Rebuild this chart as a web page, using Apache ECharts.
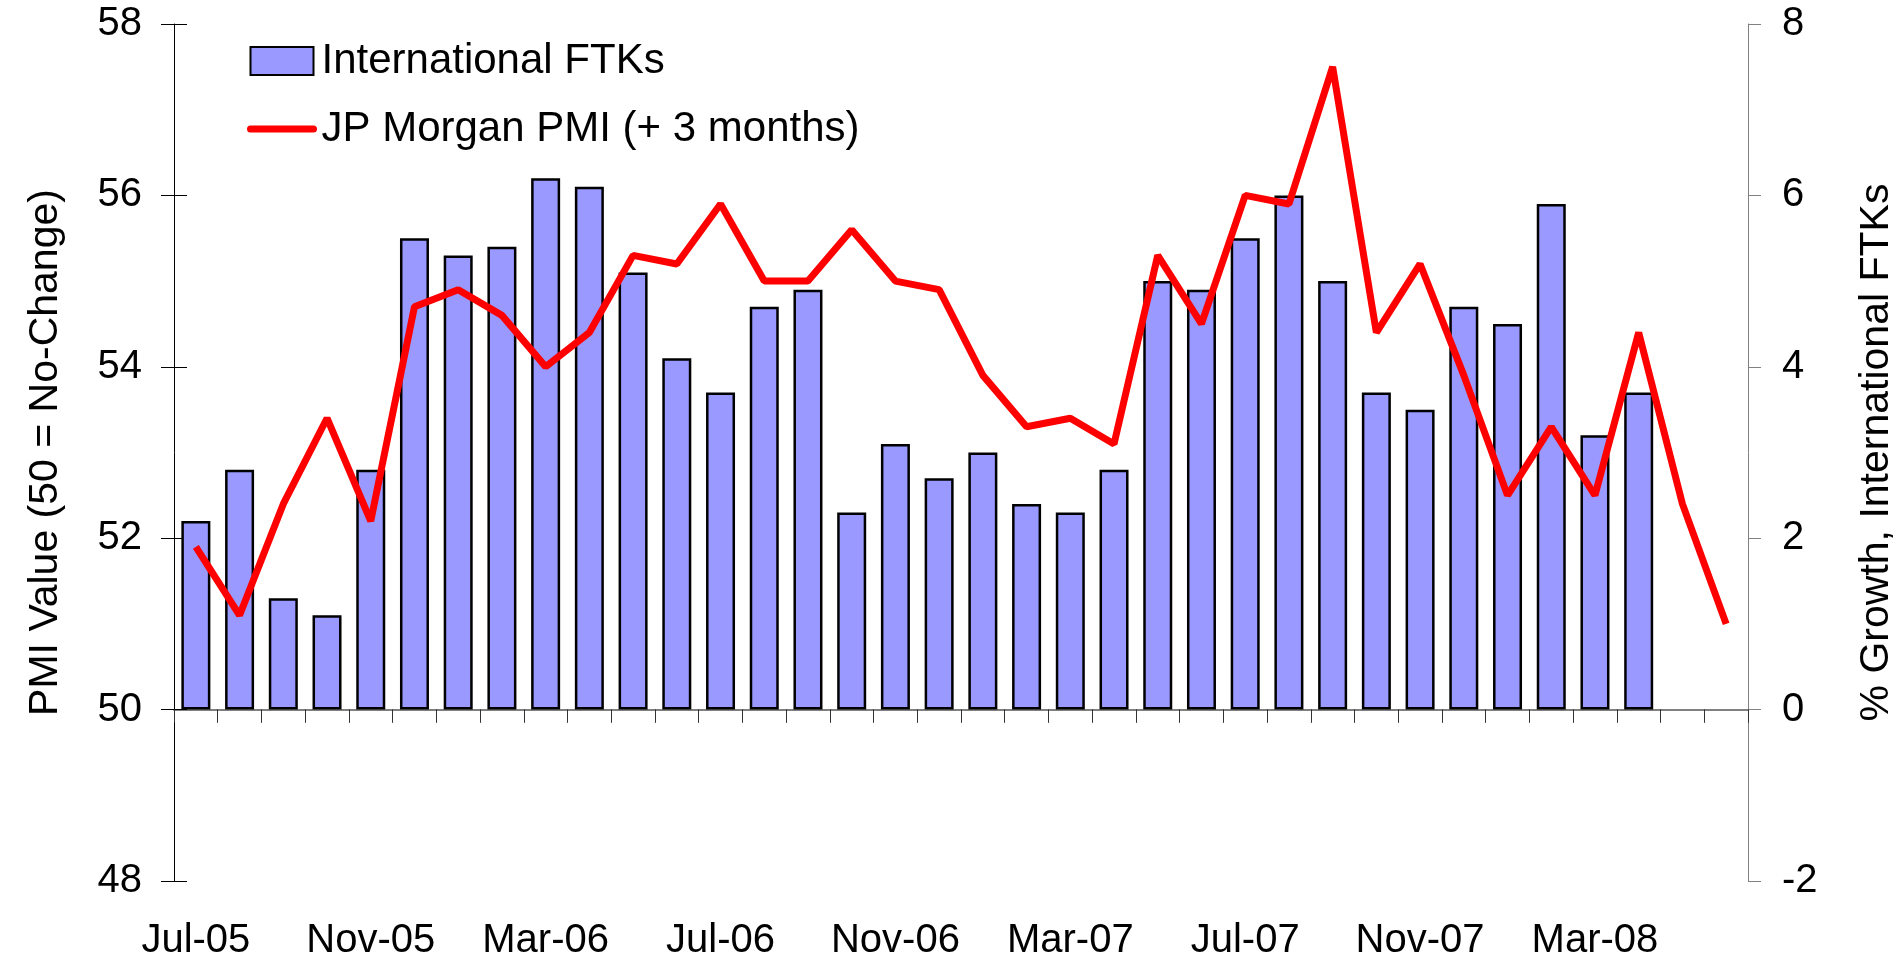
<!DOCTYPE html>
<html>
<head>
<meta charset="utf-8">
<script src="https://cdn.jsdelivr.net/npm/echarts@6/dist/echarts.min.js"></script>
<style>
  html, body { margin: 0; padding: 0; background: #fff; }
  #chart { width: 1899px; height: 961px; }
</style>
</head>
<body>
<div id="chart"></div>
<script>
// Months on the category axis (Jul-05 .. Jun-08)
const months = [
  'Jul-05', 'Aug-05', 'Sep-05', 'Oct-05', 'Nov-05', 'Dec-05',
  'Jan-06', 'Feb-06', 'Mar-06', 'Apr-06', 'May-06', 'Jun-06',
  'Jul-06', 'Aug-06', 'Sep-06', 'Oct-06', 'Nov-06', 'Dec-06',
  'Jan-07', 'Feb-07', 'Mar-07', 'Apr-07', 'May-07', 'Jun-07',
  'Jul-07', 'Aug-07', 'Sep-07', 'Oct-07', 'Nov-07', 'Dec-07',
  'Jan-08', 'Feb-08', 'Mar-08', 'Apr-08', 'May-08', 'Jun-08'
];

// % growth of international FTKs (right axis)
const ftkGrowth = [
  2.2, 2.8, 1.3, 1.1, 2.8, 5.5, 5.3, 5.4, 6.2, 6.1, 5.1, 4.1,
  3.7, 4.7, 4.9, 2.3, 3.1, 2.7, 3.0, 2.4, 2.3, 2.8, 5.0, 4.9,
  5.5, 6.0, 5.0, 3.7, 3.5, 4.7, 4.5, 5.9, 3.2, 3.7, null, null
];

// JP Morgan PMI, shifted 3 months (left axis)
const pmi = [
  51.9, 51.1, 52.4, 53.4, 52.2, 54.7, 54.9, 54.6, 54.0, 54.4, 55.3, 55.2,
  55.9, 55.0, 55.0, 55.6, 55.0, 54.9, 53.9, 53.3, 53.4, 53.1, 55.3, 54.5,
  56.0, 55.9, 57.5, 54.4, 55.2, 53.9, 52.5, 53.3, 52.5, 54.4, 52.4, 51.0
];

const font = 'Liberation Sans, Arial, sans-serif';

const chartDom = document.getElementById('chart');
const myChart = echarts.init(chartDom);

const option = {
  animation: false,
  grid: { left: 174, right: 151, top: 24, bottom: 80, containLabel: false, outerBoundsMode: 'none' },
  legend: {
    orient: 'vertical',
    left: 242,
    top: 35,
    itemWidth: 63,
    itemHeight: 28,
    itemGap: 26,
    textStyle: { fontFamily: font, fontSize: 42, color: '#000', padding: [0, 0, 0, 3] },
    data: [
      { name: 'International FTKs', icon: 'rect' },
      {
        name: 'JP Morgan PMI (+ 3 months)',
        itemStyle: { opacity: 0 },
        lineStyle: { width: 7, cap: 'round', color: '#FF0000' }
      }
    ]
  },
  xAxis: [
    {
      // axis line on the zero line with downward ticks
      type: 'category',
      data: months,
      boundaryGap: true,
      axisLine: { show: true, onZero: true, onZeroAxisIndex: 1, lineStyle: { color: '#808080', width: 2 } },
      axisTick: { show: true, interval: 0, length: 13, lineStyle: { color: '#333', width: 1 } },
      axisLabel: { show: false },
      splitLine: { show: false }
    },
    {
      // upward half of the crossing ticks
      type: 'category',
      data: months,
      boundaryGap: true,
      axisLine: { show: false, onZero: true, onZeroAxisIndex: 1 },
      axisTick: { show: true, inside: true, interval: 0, length: 13, lineStyle: { color: '#333', width: 1 } },
      axisLabel: { show: false },
      splitLine: { show: false }
    },
    {
      // labels at the bottom
      type: 'category',
      data: months,
      position: 'bottom',
      boundaryGap: true,
      axisLine: { show: false, onZero: false },
      axisTick: { show: false },
      axisLabel: { interval: 3, margin: 40, fontFamily: font, fontSize: 40, color: '#000' },
      splitLine: { show: false }
    }
  ],
  yAxis: [
    {
      type: 'value',
      position: 'left',
      min: 48, max: 58, interval: 2,
      name: 'PMI Value (50 = No-Change)',
      nameLocation: 'middle',
      nameRotate: 90,
      nameGap: 108,
      nameTextStyle: { fontFamily: font, fontSize: 41, color: '#000' },
      axisLine: { show: true, lineStyle: { color: '#000', width: 1 } },
      axisTick: { show: true, length: 13, lineStyle: { color: '#000', width: 1 } },
      axisLabel: { margin: 32, fontFamily: font, fontSize: 40, color: '#000' },
      splitLine: { show: false }
    },
    {
      type: 'value',
      position: 'right',
      min: -2, max: 8, interval: 2,
      name: '% Growth, International FTKs',
      nameLocation: 'middle',
      nameRotate: 90,
      nameGap: 108,
      nameTextStyle: { fontFamily: font, fontSize: 41, color: '#000' },
      axisLine: { show: true, onZero: false, lineStyle: { color: '#808080', width: 1 } },
      axisTick: { show: true, length: 13, lineStyle: { color: '#808080', width: 1 } },
      axisLabel: { margin: 34, fontFamily: font, fontSize: 40, color: '#000' },
      splitLine: { show: false }
    },
    {
      // inside half of the left crossing ticks
      type: 'value',
      position: 'left',
      min: 48, max: 58, interval: 2,
      axisLine: { show: false },
      axisTick: { show: true, inside: true, length: 13, lineStyle: { color: '#000', width: 1 } },
      axisLabel: { show: false },
      splitLine: { show: false }
    }
  ],
  series: [
    {
      name: 'International FTKs',
      type: 'bar',
      xAxisIndex: 0,
      yAxisIndex: 1,
      data: ftkGrowth,
      barWidth: 29,
      itemStyle: { color: '#9999FF', borderColor: '#000', borderWidth: 2.5 }
    },
    {
      name: 'JP Morgan PMI (+ 3 months)',
      type: 'line',
      xAxisIndex: 0,
      yAxisIndex: 0,
      data: pmi,
      showSymbol: false,
      symbol: 'none',
      lineStyle: { color: '#FF0000', width: 7 },
      itemStyle: { color: '#FF0000' },
      z: 3
    }
  ]
};

myChart.setOption(option);
</script>
</body>
</html>
